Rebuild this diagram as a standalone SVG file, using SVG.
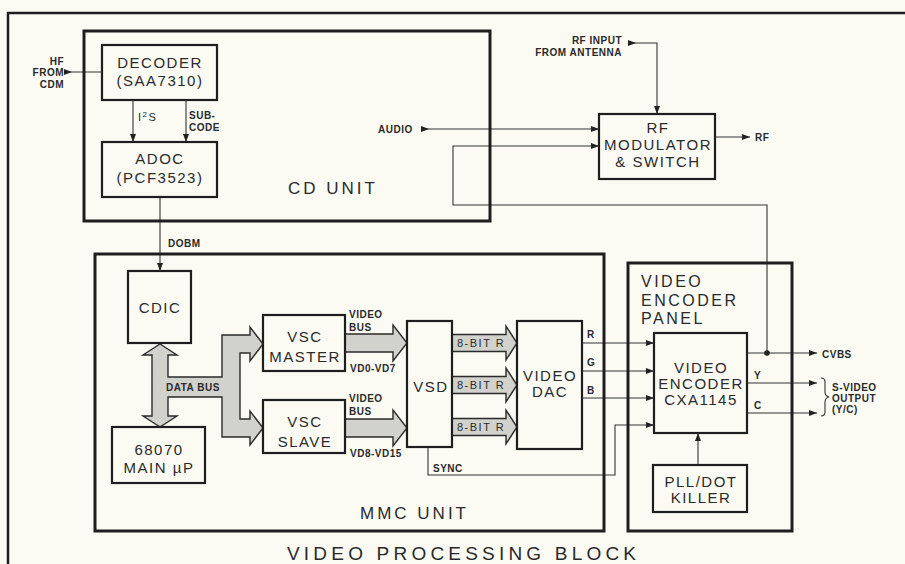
<svg xmlns="http://www.w3.org/2000/svg" width="905" height="564" viewBox="0 0 905 564">
<defs>
<style>
.bg{fill:#fbfbf4}
.unit{fill:none;stroke:#1e1e1e;stroke-width:3}
.box{fill:none;stroke:#1e1e1e;stroke-width:2.2}
.ln{fill:none;stroke:#333;stroke-width:1.1}
.bus{fill:#d2d2cc;stroke:#2a2a2a;stroke-width:1.4;stroke-linejoin:miter}
.t{font-family:"Liberation Sans",Arial,sans-serif;font-size:15px;fill:#2a2a2a;letter-spacing:1.5px;text-anchor:middle}
.u{font-family:"Liberation Sans",Arial,sans-serif;font-size:17px;fill:#2a2a2a;letter-spacing:3px}
.p{font-family:"Liberation Sans",Arial,sans-serif;font-size:16px;fill:#2a2a2a;letter-spacing:2.5px}
.title{font-family:"Liberation Sans",Arial,sans-serif;font-size:19px;fill:#2a2a2a;letter-spacing:4.2px}
.l{font-family:"Liberation Sans",Arial,sans-serif;font-size:10px;font-weight:bold;fill:#2a2a2a;letter-spacing:0.5px}
.b{font-family:"Liberation Sans",Arial,sans-serif;font-size:11px;fill:#2a2a2a;letter-spacing:1.5px}
</style>
<marker id="ah" viewBox="0 0 8 6" refX="8" refY="3" markerWidth="8" markerHeight="6" markerUnits="userSpaceOnUse" orient="auto"><path d="M0,0 L8,3 L0,6 z" fill="#222"/></marker>
<marker id="at" viewBox="0 0 8 6" refX="0" refY="3" markerWidth="8" markerHeight="6" markerUnits="userSpaceOnUse" orient="auto"><path d="M0,0 L8,3 L0,6 z" fill="#222"/></marker>
</defs>
<rect class="bg" x="0" y="0" width="905" height="564"/>
<path d="M8,564 V13 H905" fill="none" stroke="#1e1e1e" stroke-width="2.5"/>

<g id="connectors">
<path class="ln" d="M64,72 H102" marker-start="url(#at)"/>
<path class="ln" d="M133,100 V142" marker-end="url(#ah)"/>
<path class="ln" d="M186,100 V142" marker-end="url(#ah)"/>
<path class="ln" d="M160,197 V271" marker-end="url(#ah)"/>
<path class="ln" d="M421,129 H599" marker-start="url(#at)" marker-end="url(#ah)"/>
<path class="ln" d="M767,353 V205 H453 V146 H599" marker-end="url(#ah)"/>
<path class="ln" d="M628,43 H657 V114" marker-start="url(#at)" marker-end="url(#ah)"/>
<path class="ln" d="M715,137 H750" marker-end="url(#ah)"/>
<path class="ln" d="M582,343 H654" marker-end="url(#ah)"/>
<path class="ln" d="M582,371 H654" marker-end="url(#ah)"/>
<path class="ln" d="M582,398 H654" marker-end="url(#ah)"/>
<path class="ln" d="M428,447 V475 H615 V425 H654" marker-end="url(#ah)"/>
<path class="ln" d="M747,353 H817" marker-end="url(#ah)"/>
<path class="ln" d="M747,383 H817" marker-end="url(#ah)"/>
<path class="ln" d="M747,413 H817" marker-end="url(#ah)"/>
<path class="ln" d="M698,465 V433" marker-end="url(#ah)"/>
<circle cx="767" cy="353" r="2.8" fill="#222"/>
<polygon class="bus" points="160,344 177,355 168,355 168,377 222,377 222,335 250,335 250,327 263,344 250,361 250,353 240,353 240,419 250,419 250,411 263,428 250,445 250,437 222,437 222,397 168,397 168,416 177,416 160,427 143,416 152,416 152,355 143,355"/>
<polygon class="bus" points="345,334 393,334 393,325 407,343 393,361 393,352 345,352"/>
<polygon class="bus" points="345,419 393,419 393,410 407,428 393,446 393,437 345,437"/>
<polygon class="bus" points="452,334.5 506,334.5 506,326 517,343 506,360 506,351.5 452,351.5"/>
<polygon class="bus" points="452,376.5 506,376.5 506,368 517,385 506,402 506,393.5 452,393.5"/>
<polygon class="bus" points="452,418.5 506,418.5 506,410 517,427 506,444 506,435.5 452,435.5"/>
<text class="l" x="64" y="65" text-anchor="end">HF</text>
<text class="l" x="64" y="76" text-anchor="end">FROM</text>
<text class="l" x="64" y="88" text-anchor="end">CDM</text>
<text class="b" x="138" y="121">I<tspan font-size="8" dy="-4">2</tspan><tspan dy="4">S</tspan></text>
<text class="l" x="189" y="119">SUB-</text>
<text class="l" x="189" y="131">CODE</text>
<text class="l" x="168" y="247">DOBM</text>
<text class="l" x="378" y="133">AUDIO</text>
<text class="l" x="622" y="44" text-anchor="end">RF INPUT</text>
<text class="l" x="622" y="56" text-anchor="end">FROM ANTENNA</text>
<text class="l" x="755" y="141">RF</text>
<text class="l" x="166" y="391">DATA BUS</text>
<text class="l" x="349" y="318">VIDEO</text>
<text class="l" x="349" y="331">BUS</text>
<text class="l" x="350" y="372">VD0-VD7</text>
<text class="l" x="349" y="402">VIDEO</text>
<text class="l" x="349" y="415">BUS</text>
<text class="l" x="350" y="457">VD8-VD15</text>
<text class="b" x="457" y="347">8-BIT R</text>
<text class="b" x="457" y="389">8-BIT R</text>
<text class="b" x="457" y="431">8-BIT R</text>
<text class="l" x="433" y="472">SYNC</text>
<text class="l" x="587" y="338">R</text>
<text class="l" x="587" y="366">G</text>
<text class="l" x="587" y="394">B</text>
<text class="l" x="754" y="379">Y</text>
<text class="l" x="754" y="409">C</text>
<text class="l" x="822" y="358">CVBS</text>
<path class="ln" d="M821,378 q4,0 4,4 v10 q0,4 4,5 q-4,1 -4,5 v10 q0,4 -4,4"/>
<text class="l" x="832" y="391">S-VIDEO</text>
<text class="l" x="832" y="402">OUTPUT</text>
<text class="l" x="832" y="413">(Y/C)</text>
</g>

<g id="cd-unit">
<rect class="unit" x="84" y="31" width="406" height="190"/>
<text class="u" x="288" y="194">CD UNIT</text>
</g>
<g id="decoder">
<rect class="box" x="102" y="45" width="115" height="55"/>
<text class="t" x="160" y="68">DECODER</text>
<text class="t" x="160" y="86">(SAA7310)</text>
</g>
<g id="adoc">
<rect class="box" x="102" y="142" width="115" height="55"/>
<text class="t" x="160" y="164">ADOC</text>
<text class="t" x="160" y="183">(PCF3523)</text>
</g>
<g id="rf-modulator">
<rect class="box" x="599" y="114" width="116" height="65"/>
<text class="t" x="658" y="133">RF</text>
<text class="t" x="658" y="150">MODULATOR</text>
<text class="t" x="658" y="167">&amp; SWITCH</text>
</g>
<g id="mmc-unit">
<rect class="unit" x="95" y="254" width="509" height="277"/>
<text class="u" x="360" y="519">MMC UNIT</text>
</g>
<g id="cdic">
<rect class="box" x="128" y="271" width="63" height="72"/>
<text class="t" x="160" y="313">CDIC</text>
</g>
<g id="main-up">
<rect class="box" x="112" y="427" width="93" height="56"/>
<text class="t" x="159" y="455">68070</text>
<text class="t" x="159" y="473">MAIN µP</text>
</g>
<g id="vsc-master">
<rect class="box" x="263" y="315" width="82" height="56"/>
<text class="t" x="305" y="342">VSC</text>
<text class="t" x="305" y="362">MASTER</text>
</g>
<g id="vsc-slave">
<rect class="box" x="263" y="400" width="82" height="53"/>
<text class="t" x="305" y="427">VSC</text>
<text class="t" x="305" y="447">SLAVE</text>
</g>
<g id="vsd">
<rect class="box" x="407" y="321" width="45" height="126"/>
<text class="t" x="431" y="392">VSD</text>
</g>
<g id="video-dac">
<rect class="box" x="517" y="321" width="65" height="128"/>
<text class="t" x="550" y="381">VIDEO</text>
<text class="t" x="550" y="397">DAC</text>
</g>
<g id="encoder-panel">
<rect class="unit" x="628" y="263" width="164" height="268"/>
<text class="p" x="641" y="287">VIDEO</text>
<text class="p" x="641" y="306">ENCODER</text>
<text class="p" x="641" y="324">PANEL</text>
</g>
<g id="video-encoder">
<rect class="box" x="654" y="333" width="93" height="100"/>
<text class="t" x="701" y="373">VIDEO</text>
<text class="t" x="701" y="389">ENCODER</text>
<text class="t" x="701" y="405">CXA1145</text>
</g>
<g id="pll">
<rect class="box" x="653" y="465" width="94" height="47"/>
<text class="t" x="701" y="487">PLL/DOT</text>
<text class="t" x="701" y="503">KILLER</text>
</g>
<text class="title" x="287" y="560">VIDEO PROCESSING BLOCK</text>
</svg>
